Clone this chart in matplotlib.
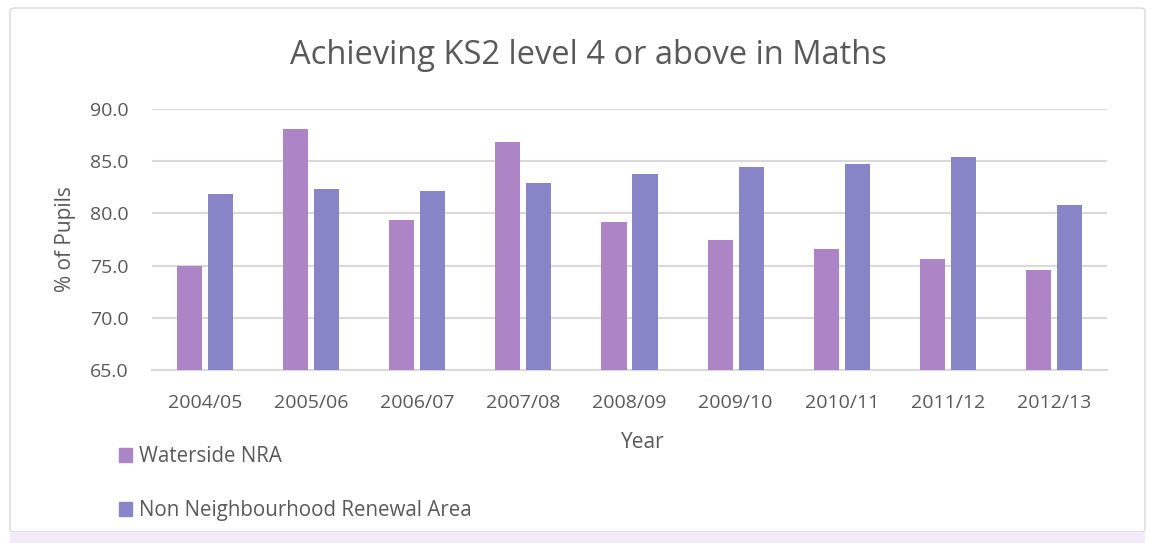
import matplotlib.pyplot as plt
import matplotlib.patches as mpatches
import numpy as np

# data
years = ['2004/05', '2005/06', '2006/07', '2007/08', '2008/09',
         '2009/10', '2010/11', '2011/12', '2012/13']
waterside = [75.0, 88.1, 79.4, 86.8, 79.2, 77.5, 76.6, 75.6, 74.6]
non_nra = [81.9, 82.3, 82.1, 82.9, 83.8, 84.4, 84.7, 85.4, 80.8]
series_names = ['Waterside NRA', 'Non Neighbourhood Renewal Area']
y_ticks = [65.0, 70.0, 75.0, 80.0, 85.0, 90.0]

c_w = '#AD84C6'
c_n = '#8784C7'
txt = '#595959'
plt.rcParams['font.family'] = ['Open Sans', 'DejaVu Sans']

fig = plt.figure(figsize=(11.51, 5.43), dpi=100)
ax = fig.add_axes([152 / 1151, 1 - 370 / 543, (1107 - 152) / 1151, (370 - 109) / 543])

x = np.arange(len(years))
w = 0.236
off = 0.146
ax.bar(x - off, [v - 65 for v in waterside], bottom=65, width=w, color=c_w,
       label=series_names[0], zorder=3)
ax.bar(x + off, [v - 65 for v in non_nra], bottom=65, width=w, color=c_n,
       label=series_names[1], zorder=3)

ax.set_ylim(65, 90)
ax.set_xlim(-0.5, len(years) - 0.5)
ax.set_yticks(y_ticks)
ax.set_yticklabels(['%.1f' % t for t in y_ticks])
ax.set_xticks(x)
ax.set_xticklabels(years)
ax.tick_params(length=0, labelsize=14, colors=txt)
ax.tick_params(axis='x', pad=17)
ax.tick_params(axis='y', pad=17)
ax.yaxis.grid(True, color='#D9D9D9', lw=1.5, zorder=0)
for s in ['top', 'right', 'left']:
    ax.spines[s].set_visible(False)
ax.spines['bottom'].set_color('#D9D9D9')
ax.spines['bottom'].set_linewidth(1.5)

ax.set_xlabel('Year', fontsize=15, color=txt)
ax.xaxis.set_label_coords(0.514, -0.237)
ax.set_ylabel('% of Pupils', fontsize=15, color=txt, labelpad=10)
fig.text(588 / 1151, 1 - 56 / 543, 'Achieving KS2 level 4 or above in Maths',
         ha='center', va='center', fontsize=23.5, color=txt)

# legend
handles = [mpatches.Patch(color=c_w), mpatches.Patch(color=c_n)]
fig.legend(handles, series_names, loc='upper left',
           bbox_to_anchor=(100 / 1151, 1 - 428 / 543), frameon=False,
           fontsize=14.8, labelcolor=txt, handlelength=0.65, handleheight=0.65,
           handletextpad=0.35, labelspacing=1.6)

# chart border
fig.patches.append(mpatches.FancyBboxPatch(
    (10 / 1151, 1 - 532 / 543), 1135 / 1151, 524 / 543,
    boxstyle='round,pad=0,rounding_size=0.005', transform=fig.transFigure,
    fill=False, edgecolor='#D9D9D9', lw=1))
fig.patches.append(mpatches.Rectangle(
    (10 / 1151, 0), 1135 / 1151, 11 / 543, transform=fig.transFigure,
    color='#F3ECF8', lw=0))

fig.savefig('out.png', dpi=100)
